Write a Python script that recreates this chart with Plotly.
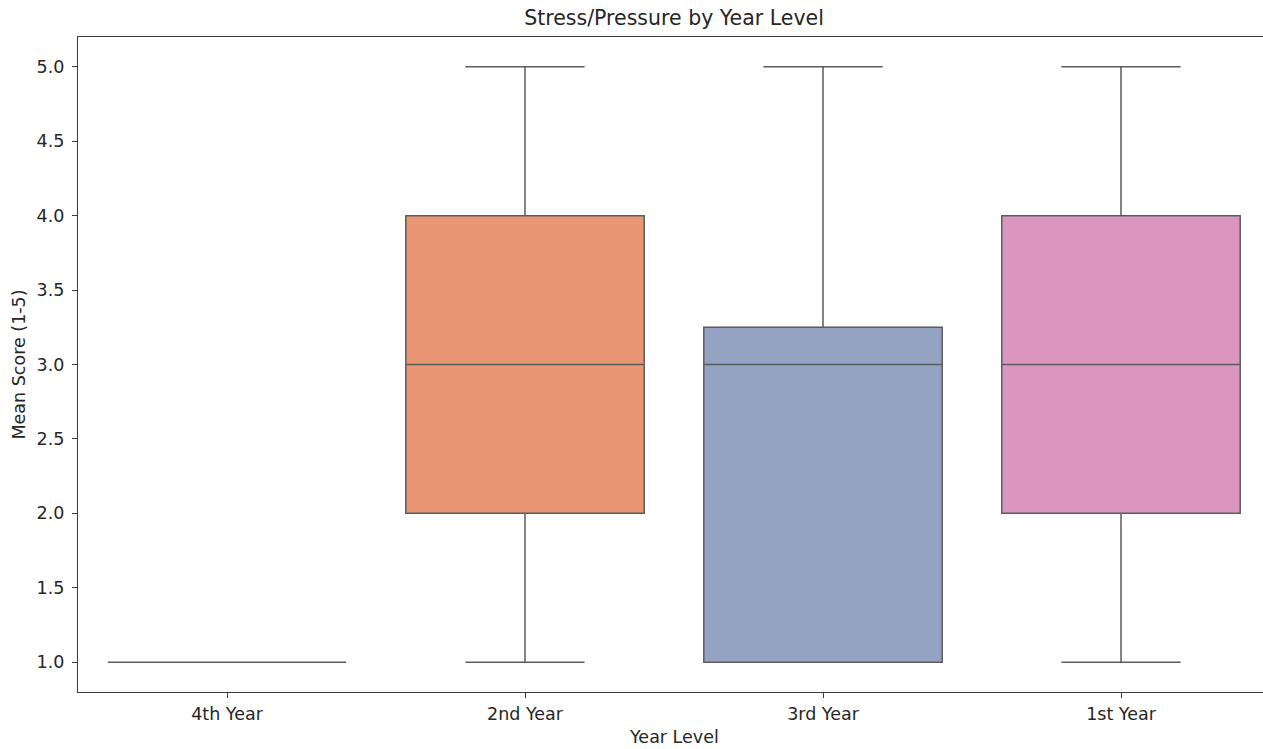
import plotly.graph_objects as go

# Five-number summaries of the stress/pressure score per year level
year_levels = ["4th Year", "2nd Year", "3rd Year", "1st Year"]
lower_whisker = [1.0, 1.0, 1.0, 1.0]
q1_values = [1.0, 2.0, 1.0, 2.0]
median_values = [1.0, 3.0, 3.0, 3.0]
q3_values = [1.0, 4.0, 3.25, 4.0]
upper_whisker = [1.0, 5.0, 5.0, 5.0]

# Set2 palette, desaturated the way seaborn fills its boxes
fill_colors = ["#71b7a1", "#e99675", "#95a3c3", "#db96c0"]
edge_color = "#5c5c5c"
font_family = "DejaVu Sans, sans-serif"

fig = go.Figure()
for i, level in enumerate(year_levels):
    fig.add_trace(go.Box(
        x=[level],
        q1=[q1_values[i]],
        median=[median_values[i]],
        q3=[q3_values[i]],
        lowerfence=[lower_whisker[i]],
        upperfence=[upper_whisker[i]],
        width=0.8,
        whiskerwidth=0.5,
        fillcolor=fill_colors[i],
        line=dict(color=edge_color, width=1.5),
        boxpoints=False,
        showlegend=False,
        hoverinfo="skip",
    ))

W, H = 1263, 749
left, top, bottom = 78, 37, 57
cat_px = 298.0
plot_w = W - left
x_max = -0.5 + plot_w / cat_px

fig.update_layout(
    width=W, height=H,
    margin=dict(l=left, r=0, t=top, b=bottom, pad=0),
    paper_bgcolor="white",
    plot_bgcolor="white",
    font=dict(family=font_family, size=17.5, color="#262626"),
    boxmode="overlay",
    title=dict(
        text="Stress/Pressure by Year Level",
        font=dict(size=20.5, color="#262626"),
        x=(left + 0.5 * 4 * cat_px) / W, xref="container", xanchor="center",
        y=1 - 18 / H, yref="container", yanchor="middle",
    ),
    xaxis=dict(
        type="category",
        categoryorder="array", categoryarray=year_levels,
        range=[-0.5, x_max],
        showgrid=False, zeroline=False,
        showline=True, linecolor="#3a3a3a", linewidth=1.2, mirror=True,
        ticks="outside", ticklen=5, tickwidth=1.2, tickcolor="#3a3a3a",
        tickfont=dict(size=17.5), ticklabelstandoff=1,
    ),
    yaxis=dict(
        range=[0.8, 5.2],
        tickvals=[1.0, 1.5, 2.0, 2.5, 3.0, 3.5, 4.0, 4.5, 5.0],
        ticktext=["1.0", "1.5", "2.0", "2.5", "3.0", "3.5", "4.0", "4.5", "5.0"],
        showgrid=False, zeroline=False,
        showline=True, linecolor="#3a3a3a", linewidth=1.2,
        ticks="outside", ticklen=5, tickwidth=1.2, tickcolor="#3a3a3a",
        tickfont=dict(size=17.5), ticklabelstandoff=4,
    ),
    annotations=[
        dict(text="Year Level", xref="paper", yref="paper",
             x=0.5 * 4 * cat_px / plot_w, y=-(737 - (H - bottom)) / (H - top - bottom),
             xanchor="center", yanchor="middle", showarrow=False,
             font=dict(size=17.5, color="#262626")),
        dict(text="Mean Score (1-5)", xref="paper", yref="paper",
             x=-(left - 18) / plot_w, y=0.5,
             xanchor="center", yanchor="middle", textangle=-90, showarrow=False,
             font=dict(size=17.5, color="#262626")),
    ],
)

fig.write_html("out.html")
